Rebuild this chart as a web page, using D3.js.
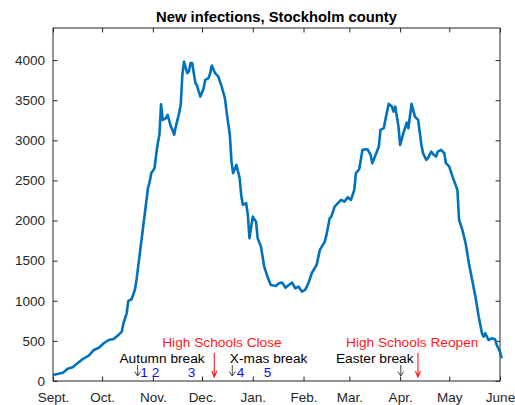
<!DOCTYPE html>
<html>
<head>
<meta charset="utf-8">
<script src="https://cdn.jsdelivr.net/npm/d3@7"></script>
<style>
  html, body { margin: 0; padding: 0; background: #fff; }
  svg { display: block; font-family: Arial, "Liberation Sans", sans-serif; }
</style>
</head>
<body>
<svg id="chart" width="515" height="405"></svg>
<script>
// ---- Data ----
const startDate = new Date(2020, 8, 1); // Sept. 1, 2020
const endDate = new Date(2021, 5, 1);   // June 1, 2021
// days since Sept. 1
const days = [0,2,6,9,12,15,18,22,25,28,31,34,37,40,42,43,45,46,48,50,
  51,58,59,60,62,63,64,65,66,67,69,70,72,73,74,75,77,78,79,80,
  82,83,84,85,87,88,89,90,92,93,95,96,97,99,101,103,105,106,108,109,
  110,112,114,115,116,118,119,120,122,124,125,127,129,131,133,136,138,140,142,144,
  146,148,150,152,154,156,158,161,163,166,167,169,170,172,174,176,178,180,182,184,
  185,187,189,192,194,195,197,199,200,202,203,205,207,208,209,211,212,214,216,217,
  219,221,223,225,226,228,229,231,232,234,235,237,239,240,242,244,247,248,250,252,
  254,256,258,260,262,263,264,266,268,270,271,273,274];
const newInfections = [75,84,103,153,171,221,271,320,387,415,
  470,511,524,574,615,720,844,998,1019,1135,
  1260,2403,2478,2590,2652,2818,2964,3068,3450,3255,
  3276,3317,3171,3130,3068,3171,3338,3442,3816,3982,
  3837,3857,3962,3962,3712,3682,3608,3545,3650,3754,
  3775,3837,3932,3837,3795,3670,3525,3358,3068,2735,
  2590,2694,2528,2307,2195,2216,2070,1779,2049,1986,
  1779,1675,1425,1300,1197,1185,1218,1226,1163,1197,
  1226,1156,1176,1114,1135,1218,1343,1447,1634,1737,
  1821,2029,2049,2174,2216,2257,2236,2291,2257,2382,
  2590,2640,2881,2889,2818,2715,2818,2922,3130,3151,
  3255,3454,3421,3358,3421,3171,2943,3089,3221,3151,
  3454,3296,3255,2943,2839,2756,2777,2859,2831,2797,
  2859,2881,2839,2715,2672,2548,2382,2008,1883,1717,
  1468,1259,1051,802,595,552,595,511,532,520,
  449,365,283];

const monthLabels = ["Sept.","Oct.","Nov.","Dec.","Jan.","Feb.","Mar.","Apr.","May","June"];
const yTicks = [0,500,1000,1500,2000,2500,3000,3500,4000];
const chartTitle = "New infections, Stockholm county";

// Annotations (day = days since Sept. 1 where the item is centred)
const schoolTexts = ["High Schools Close", "High Schools Reopen"];
const schoolTextDays = [103.2, 219.4];
const schoolArrowDays = [98.5, 222.9];
const breakTexts = ["Autumn break", "X-mas break", "Easter break"];
const breakTextDays = [66.6, 131.7, 196.5];
const breakArrowDays = [51.7, 109.5, 212.4];
const numberLabels = ["1","2","3","4","5"];
const numberDays = [55.6, 62.7, 84.7, 114.6, 131.1];

(function () {
  // ---- Layout ----
  const mLeft = 53, mRight = 500, mTop = 28, mBottom = 381;
  const svg = d3.select("#chart");

  const x = d3.scaleTime().domain([startDate, endDate]).range([mLeft, mRight]);
  const y = d3.scaleLinear().domain([0, 4400]).range([mBottom, mTop]);
  const xd = d => x(new Date(startDate.getTime() + d * 86400000));

  const axisColor = "#262626";
  const monthTicks = d3.range(monthLabels.length).map(i => new Date(2020, 8 + i, 1));

  // Title
  svg.append("text")
    .attr("x", (mLeft + mRight) / 2).attr("y", 21.5)
    .attr("text-anchor", "middle")
    .attr("font-weight", "bold").attr("font-size", "14.8px")
    .attr("fill", "#000")
    .text(chartTitle);

  // Axes
  const gx = svg.append("g").attr("transform", `translate(0,${mBottom})`)
    .call(d3.axisBottom(x).tickValues(monthTicks).tickSize(-4.5).tickPadding(11.5)
      .tickFormat((d, i) => monthLabels[i]));
  const gxTop = svg.append("g").attr("transform", `translate(0,${mTop})`)
    .call(d3.axisTop(x).tickValues(monthTicks).tickSize(-4.5).tickFormat(""));
  const gy = svg.append("g").attr("transform", `translate(${mLeft},0)`)
    .call(d3.axisLeft(y).tickValues(yTicks).tickSize(-4.5).tickPadding(8)
      .tickFormat(d3.format("d")));
  const gyRight = svg.append("g").attr("transform", `translate(${mRight},0)`)
    .call(d3.axisRight(y).tickValues(yTicks).tickSize(-4.5).tickFormat(""));

  [gx, gxTop, gy, gyRight].forEach(g => {
    const horiz = (g === gx || g === gxTop);
    g.select(".domain").attr("stroke", axisColor).attr("stroke-width", 1)
      .attr("d", horiz ? `M${mLeft},0H${mRight}` : `M0,${mBottom}V${mTop}`);
    g.selectAll(".tick line").attr("stroke", axisColor);
    g.selectAll(".tick text").attr("fill", axisColor).attr("font-size", "13.5px")
      .attr("font-family", "Arial, 'Liberation Sans', sans-serif");
  });

  // Line
  const line = d3.line()
    .x((d, i) => xd(days[i]))
    .y((d, i) => y(newInfections[i]));
  svg.append("path")
    .datum(newInfections)
    .attr("fill", "none")
    .attr("stroke", "#0072bd")
    .attr("stroke-width", 2.6)
    .attr("stroke-linejoin", "round")
    .attr("d", line);

  // Annotations
  const annFont = "13.7px";
  const rowRed = 347, rowBreak = 363, rowNum = 377;
  schoolTexts.forEach((t, i) => {
    svg.append("text").attr("x", xd(schoolTextDays[i])).attr("y", rowRed)
      .attr("text-anchor", "middle").attr("font-size", annFont).attr("fill", "#ff1a1a").text(t);
  });
  breakTexts.forEach((t, i) => {
    svg.append("text").attr("x", xd(breakTextDays[i])).attr("y", rowBreak)
      .attr("text-anchor", "middle").attr("font-size", annFont).attr("fill", "#000").text(t);
  });
  numberLabels.forEach((t, i) => {
    svg.append("text").attr("x", xd(numberDays[i])).attr("y", rowNum)
      .attr("text-anchor", "middle").attr("font-size", annFont).attr("fill", "#1010ee").text(t);
  });
  // red arrows
  schoolArrowDays.forEach(d => {
    const ax = xd(d);
    svg.append("path")
      .attr("d", `M${ax},353V377M${ax - 2.5},371L${ax},377L${ax + 2.5},371`)
      .attr("fill", "none").attr("stroke", "#ff1a1a").attr("stroke-width", 1.1);
  });
  // black small arrows
  breakArrowDays.forEach(d => {
    const ax = xd(d);
    svg.append("path")
      .attr("d", `M${ax},365V376M${ax - 3},371.5L${ax},376L${ax + 3},371.5`)
      .attr("fill", "none").attr("stroke", "#333").attr("stroke-width", 0.9);
  });
})();
</script>
</body>
</html>
